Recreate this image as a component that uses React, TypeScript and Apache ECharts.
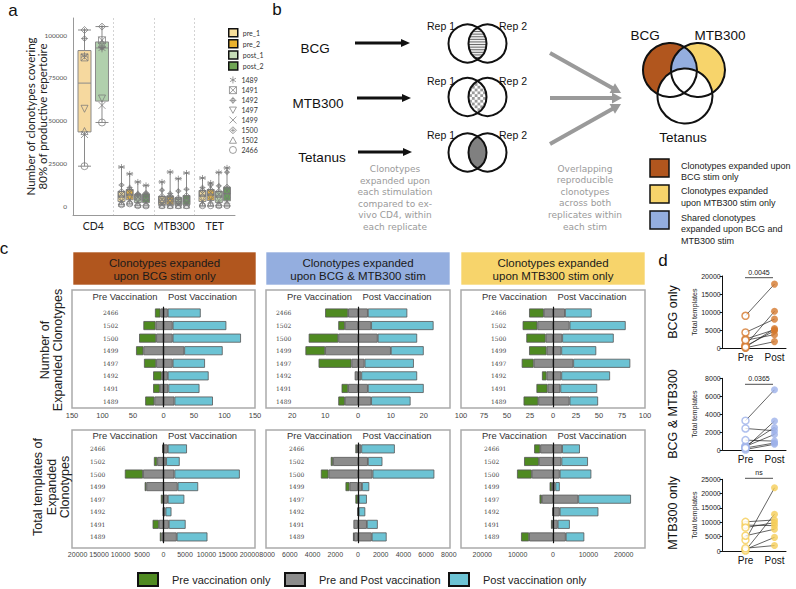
import React, { useEffect, useRef } from 'react';
import * as echarts from 'echarts';

// ---------------- Panel a data ----------------
const cd4Category = ['CD4'];
const stimCategories = ['BCG', 'MTB300', 'TET'];
const replicateNames = ['pre_1', 'pre_2', 'post_1', 'post_2'];
const donors = ['1489', '1491', '1492', '1497', '1499', '1500', '1502', '2466'];
const aYTicks = [0, 25000, 50000, 75000, 100000];

// box statistics [min, Q1, median, Q3, max]
const cd4PreBox = [23500, 43500, 72000, 91000, 103000];
const cd4PostBox = [49000, 61500, 92500, 96000, 105000];
const pre1Boxes = [[1000, 2900, 5900, 8800, 23000], [400, 1000, 3300, 5900, 14300], [400, 2900, 6200, 9200, 16600]];
const pre2Boxes = [[1500, 3900, 6800, 9800, 19000], [400, 1000, 3900, 5900, 20100], [400, 3500, 6800, 9800, 13700]];
const post1Boxes = [[400, 2300, 4900, 6800, 14300], [400, 1000, 2900, 4900, 16200], [400, 2300, 5900, 8800, 19900]];
const post2Boxes = [[300, 2300, 4500, 7400, 12300], [400, 1000, 3900, 6300, 19500], [400, 3300, 7400, 11300, 22500]];

// donor points (donor order as in `donors`)
const cd4PrePts = [88000, 87000, 98000, 57000, 42000, 103000, 44000, 23500];
const cd4PostPts = [92000, 97000, 93000, 63000, 59000, 105000, 95000, 49000];
const pre1Pts = [
  [23000, 7000, 12500, 4800, 2900, 8800, 1800, 1000],
  [14300, 4000, 9500, 2600, 1000, 5900, 800, 400],
  [16600, 7500, 11000, 5000, 2900, 9200, 1500, 400],
];
const pre2Pts = [
  [19000, 8000, 11000, 5500, 3900, 9800, 2500, 1500],
  [20100, 4500, 7500, 3300, 1000, 5900, 700, 400],
  [13700, 8000, 12500, 5600, 3500, 9800, 1800, 400],
];
const post1Pts = [
  [14300, 5500, 7500, 4300, 2300, 6800, 1200, 400],
  [16200, 3500, 9000, 2300, 1000, 4900, 700, 400],
  [19900, 7000, 12000, 4800, 2300, 8800, 1200, 400],
];
const post2Pts = [
  [12300, 5000, 8000, 4000, 2300, 7000, 1000, 300],
  [19500, 4500, 10000, 3300, 1000, 6300, 700, 400],
  [22500, 9000, 20000, 5800, 3300, 11300, 1500, 400],
];

// ---------------- Panel c data (donor order bottom -> top) ----------------
const bcgCntPreOnly = [15, 11, 14, 20, 12, 28, 20, 9];
const bcgCntSharedPre = [15, 6, 3, 12, 33, 12, 13, 5];
const bcgCntSharedPost = [18, 8, 7, 15, 34, 15, 15, 7];
const bcgCntPostOnly = [63, 51, 67, 53, 63, 112, 88, 54];

const bothCntPreOnly = [2, 2, 0, 10, 6, 9, 2, 7];
const bothCntSharedPre = [4, 3, 1, 2, 10, 6, 4, 3];
const bothCntSharedPost = [4, 3, 1, 2, 10, 6, 4, 3];
const bothCntPostOnly = [12, 17, 17, 15, 10, 12, 19, 12];

const mtbCntPreOnly = [16, 12, 5, 13, 19, 21, 16, 16];
const mtbCntSharedPre = [16, 6, 7, 21, 7, 8, 17, 10];
const mtbCntSharedPost = [18, 8, 9, 22, 9, 10, 18, 13];
const mtbCntPostOnly = [31, 40, 53, 62, 38, 56, 61, 29];

const bcgTplPreOnly = [390, 1460, 0, 465, 380, 4230, 770, 200];
const bcgTplSharedPre = [460, 1080, 150, 150, 4000, 4770, 1460, 100];
const bcgTplSharedPost = [3080, 1230, 460, 1000, 3300, 2540, 615, 1000];
const bcgTplPostOnly = [7150, 3920, 1390, 3850, 4770, 15220, 3155, 4460];

const bothTplPreOnly = [90, 0, 0, 210, 350, 670, 200, 140];
const bothTplSharedPre = [350, 400, 60, 20, 750, 2600, 2200, 90];
const bothTplSharedPost = [1210, 780, 60, 60, 350, 1280, 870, 290];
const bothTplPostOnly = [1310, 960, 580, 720, 640, 5440, 1280, 2950];

const mtbTplPreOnly = [2280, 380, 0, 670, 670, 4180, 4180, 1710];
const mtbTplSharedPre = [6750, 190, 190, 3140, 290, 5990, 3990, 3610];
const mtbTplSharedPost = [3610, 1330, 1900, 7130, 670, 1900, 2380, 2570];
const mtbTplPostOnly = [5230, 3420, 10930, 14910, 1240, 8930, 7500, 5030];

const cLegendNames = ['Pre vaccination only', 'Pre and Post vaccination', 'Post vaccination only'];

// ---------------- styling ----------------
const FONT_SANS = 'Liberation Sans, Arial, sans-serif';
const FONT_A = 'Lato, Open Sans, sans-serif';
const COL_GREEN = '#4f8a21';
const COL_GREY = '#8c8c8c';
const COL_CYAN = '#6cc3d4';
const COL_BROWN = '#b1561e';
const COL_YELLOW = '#f7d46b';
const COL_BLUE = '#94aedf';

const donorSymbols = [
  'path://M5,0L5,10M0.7,2.5L9.3,7.5M0.7,7.5L9.3,2.5',
  'path://M0,0L10,0L10,10L0,10ZM0,0L10,10M10,0L0,10',
  'path://M2,5A3,3 0 1,1 8,5A3,3 0 1,1 2,5ZM5,0L5,10M0,5L10,5',
  'path://M0,0L10,0L5,9Z',
  'path://M0,0L10,10M10,0L0,10',
  'path://M5,0L10,5L5,10L0,5ZM5,2L5,8M2,5L8,5',
  'path://M5,0L10,9L0,9Z',
  'path://M0,5A5,5 0 1,1 10,5A5,5 0 1,1 0,5Z',
];
const legendBoxColors = ['#f8df9a', '#eab22e', '#c6dcb6', '#6fa554'];

const RS = 19; // small venn radius
const HS = Math.sqrt(RS * RS - 100);
const RB = 27;
const HB = Math.sqrt(RB * RB - 14 * 14);
echarts.graphic.registerShape(
  'lensSmall',
  echarts.graphic.extendPath(`M0,${-HS}A${RS},${RS} 0 0,1 0,${HS}A${RS},${RS} 0 0,1 0,${-HS}Z`, {})
);
echarts.graphic.registerShape(
  'lensBig',
  echarts.graphic.extendPath(`M0,${-HB}A${RB},${RB} 0 0,1 0,${HB}A${RB},${RB} 0 0,1 0,${-HB}Z`, {})
);

function boxOffsets(n: number, bandPx: number) {
  const avail = bandPx * 0.8 - 2;
  const gap = (avail / n) * 0.3;
  const w = (avail - gap * (n - 1)) / n;
  const res: number[] = [];
  let base = w / 2 - avail / 2;
  for (let i = 0; i < n; i++) {
    res.push(base / bandPx);
    base += gap + w;
  }
  return res;
}

function txt(x: number, y: number, text: string, fontSize: number, o: any = {}) {
  return {
    type: 'text',
    x,
    y,
    rotation: o.rot || 0,
    z: 10,
    style: {
      text,
      fontSize,
      fontFamily: o.font || FONT_SANS,
      fill: o.color || '#111',
      align: o.align || 'center',
      verticalAlign: 'middle',
      textAlign: o.align || 'center',
      textVerticalAlign: 'middle',
      lineHeight: o.lh,
      fontWeight: o.weight || 'normal',
    },
  };
}

function arrow(x1: number, y1: number, x2: number, y2: number, w: number, hl: number, hw: number, color: string) {
  const dx = x2 - x1, dy = y2 - y1, L = Math.hypot(dx, dy), ux = dx / L, uy = dy / L;
  const bx = x2 - ux * hl, by = y2 - uy * hl, px = -uy, py = ux;
  return [
    { type: 'line', shape: { x1, y1, x2: bx + ux, y2: by + uy }, style: { stroke: color, lineWidth: w } },
    {
      type: 'polygon',
      shape: { points: [[x2, y2], [bx + px * hw, by + py * hw], [bx - px * hw, by - py * hw]] },
      style: { fill: color },
    },
  ];
}

function repVenn(cy: number, kind: string) {
  const els: any[] = [];
  const cx = 477.5;
  if (kind === 'solid') els.push({ type: 'lensSmall', x: cx, y: cy, style: { fill: '#808080' } });
  if (kind === 'stripes') {
    els.push({ type: 'lensSmall', x: cx, y: cy, style: { fill: '#f0f0f0' } });
    for (let t = -HS + 1.6; t < HS - 0.5; t += 2.6) {
      const hw = Math.sqrt(RS * RS - t * t) - 10;
      if (hw > 0.4) els.push({ type: 'line', shape: { x1: cx - hw, y1: cy + t, x2: cx + hw, y2: cy + t }, style: { stroke: '#666', lineWidth: 1 } });
    }
  }
  if (kind === 'checker') {
    els.push({ type: 'lensSmall', x: cx, y: cy, style: { fill: '#ffffff' } });
    const s = 2.8;
    for (let i = -4; i < 4; i++) {
      for (let j = -6; j < 6; j++) {
        if (Math.abs(i + j) % 2 !== 0) continue;
        const qx = (i + 0.5) * s, qy = (j + 0.5) * s;
        const hw = Math.sqrt(Math.max(0, RS * RS - qy * qy)) - 10;
        if (Math.abs(qx) + s / 2 <= hw + 0.9)
          els.push({ type: 'rect', shape: { x: cx + i * s, y: cy + j * s, width: s, height: s }, style: { fill: '#9a9a9a' } });
      }
    }
  }
  els.push({ type: 'circle', shape: { cx: 467.5, cy, r: RS }, style: { fill: 'none', stroke: '#111', lineWidth: 2 } });
  els.push({ type: 'circle', shape: { cx: 487.5, cy, r: RS }, style: { fill: 'none', stroke: '#111', lineWidth: 2 } });
  return els;
}

function sum(a: number[], b: number[]) {
  return a.map((v, i) => v + b[i]);
}

function buildOption() {
  const grids: any[] = [];
  const xAxes: any[] = [];
  const yAxes: any[] = [];
  const series: any[] = [];
  const graphics: any[] = [];

  // ---------------- Panel a ----------------
  const aTop = 18, aH = 197, band = 40.5;
  grids.push({ left: 73, top: aTop, width: band, height: aH });
  grids.push({ left: 73 + band, top: aTop, width: band * 3, height: aH });
  const aXLabel = { fontSize: 10.5, color: '#222', fontFamily: FONT_A, margin: 5, interval: 0 };
  xAxes.push({ type: 'category', gridIndex: 0, data: cd4Category, axisLine: { onZero: false, lineStyle: { color: '#999' } }, axisTick: { show: false }, axisLabel: aXLabel });
  xAxes.push({ type: 'value', gridIndex: 0, min: 0, max: 1, show: false });
  xAxes.push({
    type: 'category', gridIndex: 1, data: stimCategories,
    axisLine: { onZero: false, lineStyle: { color: '#999' } }, axisTick: { show: false }, axisLabel: aXLabel,
    splitLine: { show: true, showMinLine: true, showMaxLine: false, interval: 0, lineStyle: { color: '#c8c8c8', type: [2, 2], width: 0.8 } },
  });
  xAxes.push({ type: 'value', gridIndex: 1, min: 0, max: 3, show: false });
  yAxes.push({
    type: 'value', gridIndex: 0, min: -5000, max: 110000,
    axisLine: { show: true, onZero: false, lineStyle: { color: '#999' } }, axisTick: { show: false }, splitLine: { show: false },
    axisLabel: { customValues: aYTicks, fontSize: 6.5, color: '#555', margin: 6, fontFamily: FONT_A, formatter: (v: number) => String(v) },
    name: 'Number of clonotypes covering\n80% of productive repertoire', nameLocation: 'middle', nameGap: 25, nameRotate: 90,
    nameMoveOverlap: false,
    nameTextStyle: { fontSize: 11.5, color: '#222', fontFamily: FONT_A, lineHeight: 11.5 },
  });
  yAxes.push({ type: 'value', gridIndex: 1, min: -5000, max: 110000, show: false });

  const boxStyle = (c: string) => ({ color: c, borderColor: '#8a8a8a', borderWidth: 1 });
  series.push({ type: 'boxplot', name: 'pre_1', xAxisIndex: 0, yAxisIndex: 0, data: [cd4PreBox], boxWidth: [13, 13], itemStyle: boxStyle('rgba(244,208,135,0.8)'), silent: true });
  series.push({ type: 'boxplot', name: 'post_1', xAxisIndex: 0, yAxisIndex: 0, data: [cd4PostBox], boxWidth: [13, 13], itemStyle: boxStyle('rgba(158,196,152,0.8)'), silent: true });
  const repBoxes = [pre1Boxes, pre2Boxes, post1Boxes, post2Boxes];
  const repColors = ['rgba(238,214,150,0.9)', 'rgba(226,172,50,0.9)', 'rgba(178,206,168,0.9)', 'rgba(90,150,76,0.9)'];
  replicateNames.forEach((nm, r) => {
    series.push({ type: 'boxplot', name: nm, xAxisIndex: 2, yAxisIndex: 1, data: repBoxes[r], boxWidth: [7, 7], itemStyle: boxStyle(repColors[r]), silent: true });
  });
  const off2 = boxOffsets(2, band);
  const off4 = boxOffsets(4, band);
  const repPts = [pre1Pts, pre2Pts, post1Pts, post2Pts];
  const ptStyle = { color: 'rgba(255,255,255,0)', borderColor: '#777', borderWidth: 0.9 };
  donors.forEach((d, i) => {
    series.push({
      type: 'scatter', name: d, xAxisIndex: 1, yAxisIndex: 0, symbol: donorSymbols[i], symbolSize: 7, itemStyle: ptStyle, z: 5,
      data: [[0.5 + off2[0], cd4PrePts[i]], [0.5 + off2[1], cd4PostPts[i]]],
    });
    const pts: number[][] = [];
    for (let s = 0; s < 3; s++) for (let r = 0; r < 4; r++) pts.push([s + 0.5 + off4[r], repPts[r][s][i]]);
    series.push({ type: 'scatter', name: d, xAxisIndex: 3, yAxisIndex: 1, symbol: donorSymbols[i], symbolSize: 6, itemStyle: ptStyle, z: 5, data: pts });
  });

  // ---------------- Panel c ----------------
  const cCols = [[72, 255], [266, 450], [461, 645]];
  const cRows = [
    { fTop: 290, fBot: 408, gTop: 306.7, gH: 100.6, lm: 4, fs: 7.5, titleY: 296 },
    { fTop: 430, fBot: 548, gTop: 442.6, gH: 100.6, lm: 8, fs: 7, titleY: 435 },
  ];
  const cSpecs = [
    { col: 0, row: 0, d: [bcgCntSharedPre, bcgCntPreOnly, bcgCntSharedPost, bcgCntPostOnly], min: -150, max: 150, ticks: [-150, -100, -50, 0, 50, 100, 150], cm: 31 },
    { col: 1, row: 0, d: [bothCntSharedPre, bothCntPreOnly, bothCntSharedPost, bothCntPostOnly], min: -28, max: 28, ticks: [-20, -10, 0, 10, 20], cm: 10 },
    { col: 2, row: 0, d: [mtbCntSharedPre, mtbCntPreOnly, mtbCntSharedPost, mtbCntPostOnly], min: -100, max: 100, ticks: [-100, -75, -50, -25, 0, 25, 50, 75, 100], cm: 30 },
    { col: 0, row: 1, d: [bcgTplSharedPre, bcgTplPreOnly, bcgTplSharedPost, bcgTplPostOnly], min: -21300, max: 21300, ticks: [-20000, -15000, -10000, -5000, 0, 5000, 10000, 15000, 20000], cm: 18 },
    { col: 1, row: 1, d: [bothTplSharedPre, bothTplPreOnly, bothTplSharedPost, bothTplPostOnly], min: -8100, max: 8100, ticks: [-8000, -6000, -4000, -2000, 0, 2000, 4000, 6000, 8000], cm: 23 },
    { col: 2, row: 1, d: [mtbTplSharedPre, mtbTplPreOnly, mtbTplSharedPost, mtbTplPostOnly], min: -26000, max: 26000, ticks: [-20000, -10000, 0, 10000, 20000], cm: 23 },
  ];
  const segNames = [cLegendNames[1], cLegendNames[0], cLegendNames[1], cLegendNames[2]];
  const segColors = [COL_GREY, COL_GREEN, COL_GREY, COL_CYAN];
  cSpecs.forEach((sp, k) => {
    const [l, r] = cCols[sp.col];
    const row = cRows[sp.row];
    const gi = grids.length;
    grids.push({ left: l, top: row.gTop, width: r - l, height: row.gH });
    const xi = xAxes.length;
    xAxes.push({
      type: 'value', gridIndex: gi, min: sp.min, max: sp.max,
      axisLine: { show: false }, axisTick: { show: false }, splitLine: { show: false },
      axisLabel: {
        customValues: sp.ticks, showMinLabel: true, showMaxLabel: true, hideOverlap: false,
        fontSize: row.fs, color: '#444', fontFamily: FONT_SANS, margin: row.lm, formatter: (v: number) => String(Math.abs(v)),
      },
    });
    const yi = yAxes.length;
    yAxes.push({
      type: 'category', gridIndex: gi, data: donors, axisLine: { show: false }, axisTick: { show: false },
      axisLabel: { inside: true, interval: 0, margin: sp.cm, fontSize: 6, color: '#444', fontFamily: 'DejaVu Serif, serif' },
    });
    sp.d.forEach((arr, s) => {
      const sign = s < 2 ? -1 : 1;
      const ser: any = {
        type: 'bar', name: segNames[s], xAxisIndex: xi, yAxisIndex: yi, stack: 'c' + k, barWidth: 9,
        itemStyle: { color: segColors[s], borderColor: '#555', borderWidth: 0.8 },
        data: arr.map((v) => (v === 0 ? null : sign * v)), silent: true,
      };
      if (s === 0) {
        ser.markLine = { silent: true, symbol: ['none', 'none'], label: { show: false }, lineStyle: { color: '#111', width: 1.2, type: 'solid' }, data: [{ xAxis: 0 }] };
      }
      series.push(ser);
    });
    graphics.push({ type: 'rect', shape: { x: l, y: row.fTop, width: r - l, height: row.fBot - row.fTop }, style: { fill: 'none', stroke: '#aaa', lineWidth: 1.5 } });
    const cx = (l + r) / 2;
    graphics.push(txt(cx - 38.5, row.titleY, 'Pre Vaccination', 9.4, { color: '#333' }));
    graphics.push(txt(cx + 39, row.titleY, 'Post Vaccination', 9.4, { color: '#333' }));
  });
  // headers
  const headers = [
    { l: 73, r: 256, c: COL_BROWN, t: 'Clonotypes expanded\nupon BCG stim only' },
    { l: 266, r: 450, c: COL_BLUE, t: 'Clonotypes expanded\nupon BCG & MTB300 stim' },
    { l: 461, r: 645, c: COL_YELLOW, t: 'Clonotypes expanded\nupon MTB300 stim only' },
  ];
  headers.forEach((h) => {
    graphics.push({ type: 'rect', shape: { x: h.l, y: 252, width: h.r - h.l, height: 33 }, style: { fill: h.c, stroke: 'rgba(255,255,255,0.6)', lineWidth: 1 } });
    graphics.push(txt((h.l + h.r) / 2, 269.5, h.t, 11.5, { color: '#1a1a1a', lh: 12.5 }));
  });
  graphics.push(txt(51, 350, 'Number of\nExpanded Clonotypes', 12.5, { rot: Math.PI / 2, lh: 13, color: '#222' }));
  graphics.push(txt(51.5, 487, 'Total templates of\nExpanded\nClonotypes', 12.5, { rot: Math.PI / 2, lh: 13.5, color: '#222' }));

  // ---------------- Panel d ----------------
  const dSpecs = [
    { label: 'BCG only', pre: sum(bcgTplPreOnly, bcgTplSharedPre), post: sum(bcgTplSharedPost, bcgTplPostOnly), color: '#d4792e', top: 276, h: 72.3, max: 20000, iv: 5000, sig: '0.0045', sigY: 277.7, labY: 312 },
    { label: 'BCG & MTB300', pre: sum(bothTplPreOnly, bothTplSharedPre), post: sum(bothTplSharedPost, bothTplPostOnly), color: '#9db2ea', top: 378.3, h: 71.7, max: 8000, iv: 2000, sig: '0.0365', sigY: 384.3, labY: 414 },
    { label: 'MTB300 only', pre: sum(mtbTplPreOnly, mtbTplSharedPre), post: sum(mtbTplSharedPost, mtbTplPostOnly), color: '#f5cd58', top: 479.3, h: 71.7, max: 25000, iv: 5000, sig: 'ns', sigY: 478.3, labY: 513 },
  ];
  dSpecs.forEach((sp) => {
    const gi = grids.length;
    grids.push({ left: 722.7, width: 63.3, top: sp.top, height: sp.h });
    const xi = xAxes.length;
    xAxes.push({
      type: 'value', gridIndex: gi, min: -0.786, max: 1.397,
      axisLine: { show: true, onZero: false, lineStyle: { color: '#111', width: 1 } }, axisTick: { show: false }, splitLine: { show: false },
      axisLabel: { customValues: [0, 1], formatter: (v: number) => (v < 0.5 ? 'Pre' : 'Post'), fontSize: 10, color: '#111', margin: 4, fontFamily: FONT_SANS },
    });
    const yi = yAxes.length;
    yAxes.push({
      type: 'value', gridIndex: gi, min: 0, max: sp.max, interval: sp.iv,
      axisLine: { show: true, onZero: false, lineStyle: { color: '#111', width: 1 } },
      axisTick: { show: true, length: 3, lineStyle: { color: '#111' } }, splitLine: { show: false },
      axisLabel: { fontSize: 7, color: '#222', margin: 2, fontFamily: FONT_SANS, formatter: (v: number) => String(v) },
      name: 'Total templates', nameLocation: 'middle', nameGap: 25, nameMoveOverlap: false,
      nameTextStyle: { fontSize: 7, color: '#222', fontFamily: FONT_SANS },
    });
    sp.pre.forEach((v, i) => {
      series.push({
        type: 'line', xAxisIndex: xi, yAxisIndex: yi, symbol: 'none', silent: true,
        lineStyle: { color: '#222', width: 0.7 }, data: [[0, v], [1, sp.post[i]]],
      });
    });
    series.push({ type: 'scatter', xAxisIndex: xi, yAxisIndex: yi, symbol: 'circle', symbolSize: 7, z: 4, itemStyle: { color: '#fff', borderColor: sp.color, borderWidth: 1.5 }, data: sp.pre.map((v) => [0, v]) });
    series.push({ type: 'scatter', xAxisIndex: xi, yAxisIndex: yi, symbol: 'circle', symbolSize: 7, z: 4, itemStyle: { color: sp.color }, data: sp.post.map((v) => [1, v]) });
    graphics.push({ type: 'line', shape: { x1: 745, y1: sp.sigY, x2: 773, y2: sp.sigY }, style: { stroke: '#222', lineWidth: 0.8 } });
    graphics.push(txt(759, sp.sigY - 5.5, sp.sig, 7, { color: '#222' }));
    graphics.push(txt(673, sp.labY, sp.label, 12.5, { rot: Math.PI / 2, color: '#111' }));
  });

  // ---------------- Panel b (diagram) ----------------
  graphics.push(txt(315, 48, 'BCG', 13.5));
  graphics.push(txt(318, 103, 'MTB300', 13.5));
  graphics.push(txt(322, 157, 'Tetanus', 13.5));
  graphics.push(...arrow(355, 43, 410, 43, 3, 9, 4, '#111'));
  graphics.push(...arrow(357, 98, 411, 98, 3, 9, 4, '#111'));
  graphics.push(...arrow(358, 152, 412, 152, 3, 9, 4, '#111'));
  graphics.push(...repVenn(43.5, 'stripes'));
  graphics.push(...repVenn(97, 'checker'));
  graphics.push(...repVenn(152.5, 'solid'));
  [26, 81, 135].forEach((y) => {
    graphics.push(txt(441, y, 'Rep 1', 10.5));
    graphics.push(txt(513, y, 'Rep 2', 10.5));
  });
  graphics.push(...arrow(550, 53, 621, 93, 4, 10, 5.5, '#9a9a9a'));
  graphics.push(...arrow(550, 98, 622, 98, 4, 10, 5.5, '#9a9a9a'));
  graphics.push(...arrow(550, 144, 621, 104, 4, 10, 5.5, '#9a9a9a'));
  // big venn
  graphics.push({ type: 'circle', shape: { cx: 670, cy: 70, r: RB }, style: { fill: COL_BROWN } });
  graphics.push({ type: 'circle', shape: { cx: 698, cy: 70, r: RB }, style: { fill: COL_YELLOW } });
  graphics.push({ type: 'lensBig', x: 684, y: 70, style: { fill: COL_BLUE } });
  graphics.push({ type: 'circle', shape: { cx: 685, cy: 96, r: 27.5 }, style: { fill: '#fff', stroke: '#111', lineWidth: 2 } });
  graphics.push({ type: 'circle', shape: { cx: 670, cy: 70, r: RB }, style: { fill: 'none', stroke: '#111', lineWidth: 2 } });
  graphics.push({ type: 'circle', shape: { cx: 698, cy: 70, r: RB }, style: { fill: 'none', stroke: '#111', lineWidth: 2 } });
  graphics.push(txt(645, 35, 'BCG', 13.5));
  graphics.push(txt(720, 35, 'MTB300', 13.5));
  graphics.push(txt(683, 137, 'Tetanus', 13.5));
  const greyText = { font: 'DejaVu Sans, sans-serif', color: '#9a9a9a', lh: 11.6 };
  graphics.push(txt(395, 198, 'Clonotypes\nexpanded upon\neach stimulation\ncompared to ex-\nvivo CD4, within\neach replicate', 9, greyText));
  graphics.push(txt(585, 197.5, 'Overlapping\nreproducible\nclonotypes\nacross both\nreplicates within\neach stim', 9, greyText));
  const bLegend = [
    { y: 159, c: COL_BROWN, t: 'Clonotypes expanded upon\nBCG stim only', ty: 171.5 },
    { y: 185, c: COL_YELLOW, t: 'Clonotypes expanded\nupon MTB300 stim only', ty: 197 },
    { y: 211, c: COL_BLUE, t: 'Shared clonotypes\nexpanded upon BCG and\nMTB300 stim', ty: 229 },
  ];
  bLegend.forEach((b) => {
    graphics.push({ type: 'rect', shape: { x: 650, y: b.y, width: 19, height: 18 }, style: { fill: b.c, stroke: '#111', lineWidth: 1.5 } });
    graphics.push(txt(681, b.ty, b.t, 9, { align: 'left', lh: 11.5, color: '#222' }));
  });

  // panel letters
  graphics.push(txt(13, 10, 'a', 17));
  graphics.push(txt(277, 9, 'b', 17));
  graphics.push(txt(4, 248, 'c', 17));
  graphics.push(txt(663, 260, 'd', 17));

  const cLegendLefts = [137, 284, 448];
  const cLegendColors = [COL_GREEN, COL_GREY, COL_CYAN];
  const cLegends = cLegendNames.map((nm, i) => ({
    data: [{ name: nm, itemStyle: { color: cLegendColors[i], borderColor: '#111', borderWidth: 2 } }],
    left: cLegendLefts[i], top: 572, padding: 0, itemWidth: 20, itemHeight: 13, icon: 'rect',
    textStyle: { fontSize: 11, color: '#222', fontFamily: FONT_SANS, padding: [0, 0, 0, 9] }, selectedMode: false,
  }));

  return {
    animation: false,
    backgroundColor: '#fff',
    grid: grids,
    xAxis: xAxes,
    yAxis: yAxes,
    legend: [
      {
        data: replicateNames.map((nm, i) => ({ name: nm, itemStyle: { color: legendBoxColors[i], borderColor: '#111', borderWidth: 1.5 } })),
        orient: 'vertical', left: 228, top: 28, padding: 0, itemWidth: 9, itemHeight: 8, itemGap: 1.6, icon: 'rect',
        textStyle: { fontSize: 7, color: '#333', fontFamily: FONT_A }, selectedMode: false,
      },
      {
        data: donors.map((d, i) => ({ name: d, icon: donorSymbols[i], itemStyle: { color: 'rgba(255,255,255,0)', borderColor: '#777', borderWidth: 0.9 } })),
        orient: 'vertical', left: 229, top: 76, padding: 0, itemWidth: 7, itemHeight: 7, itemGap: 2.3,
        textStyle: { fontSize: 7, color: '#333', fontFamily: FONT_A }, selectedMode: false,
      },
      ...cLegends,
    ],
    series,
    graphic: { elements: graphics },
  };
}

export default function App() {
  const ref = useRef<HTMLDivElement>(null);
  useEffect(() => {
    if (!ref.current) return;
    const chart = echarts.init(ref.current, undefined, { renderer: 'svg' });
    chart.setOption(buildOption() as any);
    return () => chart.dispose();
  }, []);
  return <div ref={ref} style={{ position: 'fixed', left: 0, top: 0, width: 796, height: 589, background: '#fff' }} />;
}
